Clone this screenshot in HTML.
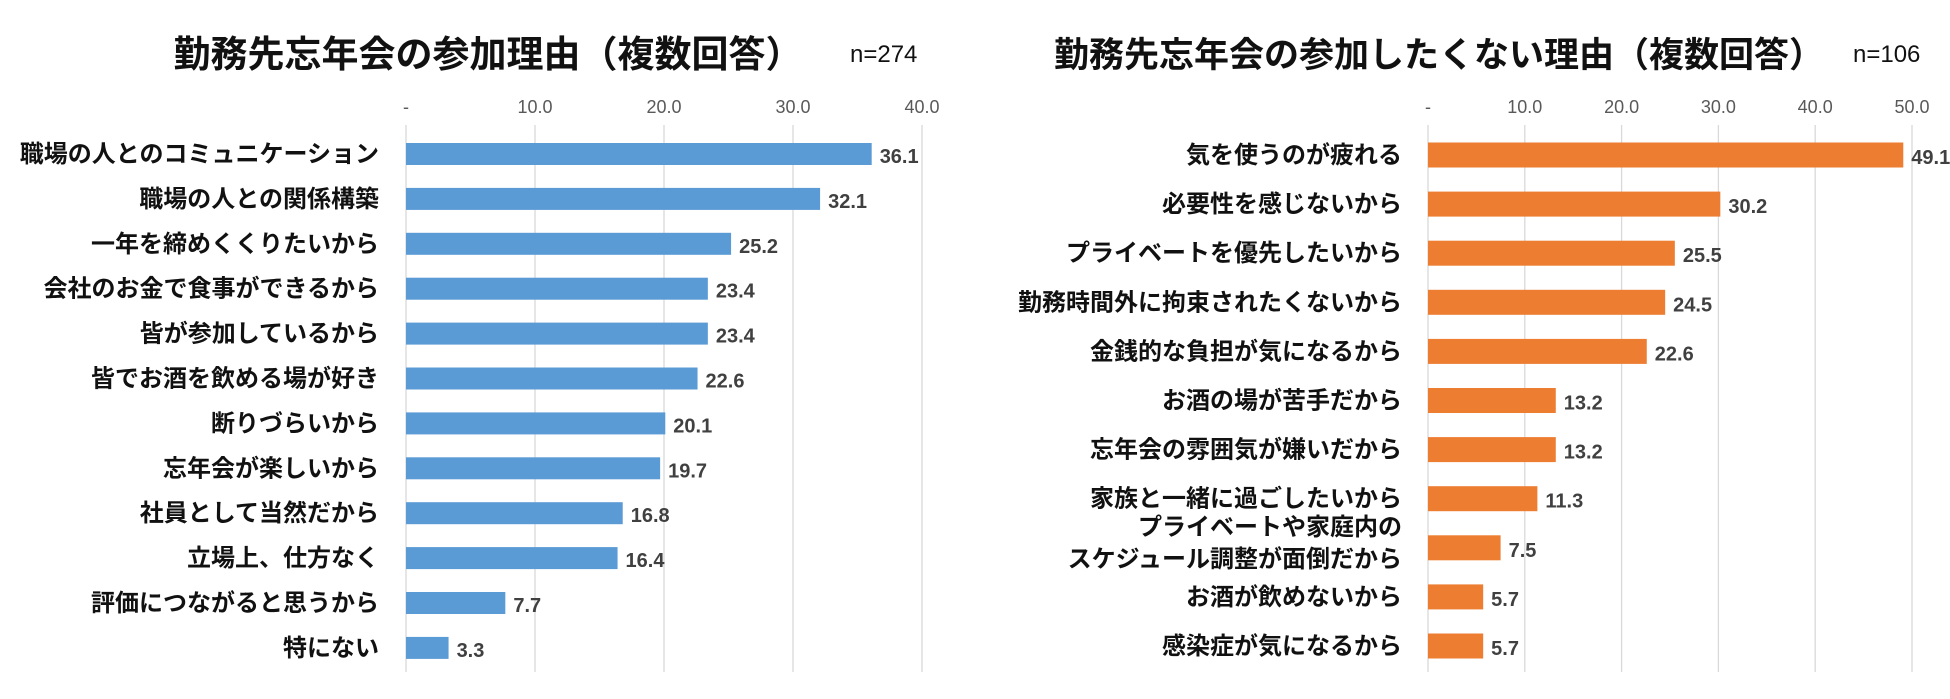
<!DOCTYPE html>
<html><head><meta charset="utf-8">
<style>
html,body{margin:0;padding:0;background:#fff;}
body{width:1950px;height:694px;overflow:hidden;font-family:"Liberation Sans","Noto Sans CJK JP",sans-serif;}
</style></head>
<body>
<svg id="chart" width="1950" height="694" xmlns="http://www.w3.org/2000/svg" font-family="Liberation Sans, Noto Sans CJK JP, sans-serif"></svg>
<script>
const leftCategories=["職場の人とのコミュニケーション","職場の人との関係構築","一年を締めくくりたいから","会社のお金で食事ができるから","皆が参加しているから","皆でお酒を飲める場が好き","断りづらいから","忘年会が楽しいから","社員として当然だから","立場上、仕方なく","評価につながると思うから","特にない"];
const leftValues=[36.1,32.1,25.2,23.4,23.4,22.6,20.1,19.7,16.8,16.4,7.7,3.3];
const leftTicks=[0,10,20,30,40];
const rightCategories=["気を使うのが疲れる","必要性を感じないから","プライベートを優先したいから","勤務時間外に拘束されたくないから","金銭的な負担が気になるから","お酒の場が苦手だから","忘年会の雰囲気が嫌いだから","家族と一緒に過ごしたいから","プライベートや家庭内の\nスケジュール調整が面倒だから","お酒が飲めないから","感染症が気になるから"];
const rightValues=[49.1,30.2,25.5,24.5,22.6,13.2,13.2,11.3,7.5,5.7,5.7];
const rightTicks=[0,10,20,30,40,50];

const NS="http://www.w3.org/2000/svg";
const svg=document.getElementById('chart');
function mk(tag,attrs,parent){const e=document.createElementNS(NS,tag);for(const k in attrs)e.setAttribute(k,attrs[k]);(parent||svg).appendChild(e);return e;}

function drawChart(o){
  const g=mk('g',{});
  
  
  const x=v=>o.x0+v*o.scale;
  const y=i=>o.y0+i*o.step;
  const t=mk('text',{x:o.titleX,y:67,'font-size':o.titleSize,'font-weight':'bold','text-anchor':'middle',fill:'#111'},g);
  t.textContent=o.title;
  
  
  const n=mk('text',{x:o.nX,y:62,'font-size':24,fill:'#111'},g);
  n.textContent=o.n;
  
  
  o.ticks.forEach(tv=>{
    const ln=mk('line',{x1:x(tv),x2:x(tv),y1:125,y2:672,stroke:'#d9d9d9','stroke-width':1.3},g);
    
    
    const tl=mk('text',{x:x(tv),y:113,'font-size':18,fill:'#595959','text-anchor':'middle'},g);
    tl.textContent=tv===0?'-':tv.toFixed(1);
    
    
  });
  o.cats.forEach((c,i)=>{
    const cy=y(i);
    const r=mk('rect',{x:x(0),y:cy-o.bh/2,width:x(o.vals[i])-x(0),height:o.bh,fill:o.color},g);
    
    
    const v=mk('text',{x:x(o.vals[i])+8,y:cy+9,'font-size':20,'font-weight':'bold',fill:'#404040'},g);
    v.textContent=o.vals[i].toFixed(1);
    
    
    const lines=c.split('\n');
    const off=lines.length>1?-5:0;
    lines.forEach((s,j)=>{
      const l=mk('text',{x:o.labelX,y:cy+8+off+(j-(lines.length-1)/2)*32,'font-size':24,'font-weight':'bold','text-anchor':'end',fill:'#111'},g);
      l.textContent=s;
      
      
    });
  });
}
drawChart({name:'left-chart',title:'勤務先忘年会の参加理由（複数回答）',titleX:488,titleSize:37,n:'n=274',nX:850,cats:leftCategories,vals:leftValues,ticks:leftTicks,x0:406,scale:12.9,y0:154,step:44.9,bh:22,color:'#5b9bd5',labelX:379});
drawChart({name:'right-chart',title:'勤務先忘年会の参加したくない理由（複数回答）',titleX:1439,titleSize:35,n:'n=106',nX:1853,cats:rightCategories,vals:rightValues,ticks:rightTicks,x0:1428,scale:9.68,y0:155,step:49.1,bh:25,color:'#ed7d31',labelX:1402});
</script>
</body></html>
